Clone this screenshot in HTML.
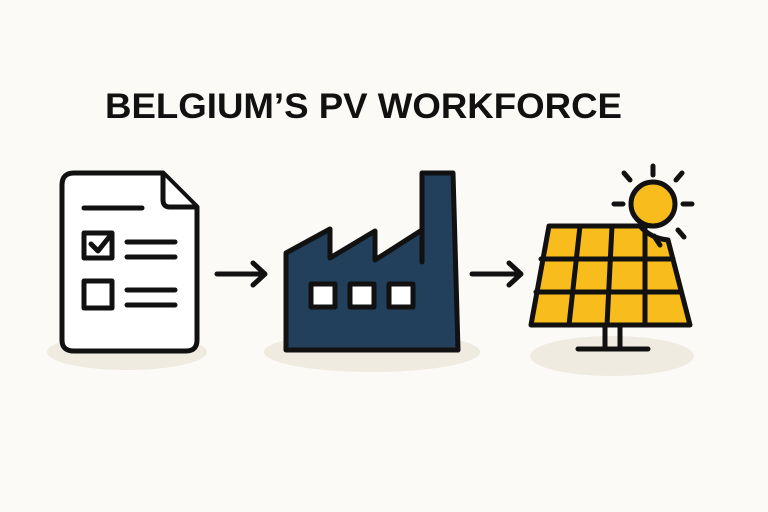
<!DOCTYPE html>
<html><head><meta charset="utf-8"><style>
html,body{margin:0;padding:0;background:#fbfaf7;}
svg{display:block}
</style></head><body>
<svg width="768" height="512" viewBox="0 0 768 512" xmlns="http://www.w3.org/2000/svg">
<rect width="768" height="512" fill="#fbfaf7"/>
<text x="105" y="118" font-family="Liberation Sans, sans-serif" font-weight="bold" font-size="35" textLength="517" lengthAdjust="spacingAndGlyphs" fill="#111">BELGIUM’S PV WORKFORCE</text>
<g fill="#efebe0">
<ellipse cx="127" cy="352" rx="80" ry="18"/>
<ellipse cx="372" cy="352" rx="108" ry="20"/>
<ellipse cx="612" cy="356" rx="82" ry="20"/>
</g>
<g stroke="#111" stroke-width="5" stroke-linecap="round" stroke-linejoin="round" fill="none">
<path d="M74 173 H163 L197 207 V340 Q197 351 186 351 H74 Q62 351 62 340 V185 Q62 173 74 173 Z" fill="#fff"/>
<path d="M163 175 V200 Q163 207 170 207 H195" fill="#fff"/>
<line x1="84" y1="208" x2="142" y2="208"/>
<rect x="84" y="233" width="28" height="25"/>
<path d="M91 244 L98 251 L110 236"/>
<line x1="127" y1="242" x2="175" y2="242"/>
<line x1="127" y1="257" x2="175" y2="257"/>
<rect x="84" y="281" width="28" height="27"/>
<line x1="127" y1="290" x2="175" y2="290"/>
<line x1="127" y1="305" x2="175" y2="305"/>
<path d="M217 274 H264 M253 263 L265 274 L253 285"/>
<path d="M472 274 H520 M509 263 L521 274 L509 285"/>
<path d="M286 350 V253 L330 229 V258 L375 231 V260 L422 230 V173 H453 L458 350 Z" fill="#22405c"/>
<path d="M422 230 V262" />
<rect x="311" y="284" width="24" height="23" fill="#fff"/>
<rect x="350" y="284" width="24" height="23" fill="#fff"/>
<rect x="389" y="284" width="24" height="23" fill="#fff"/>
<path d="M549 226 L640 226 Q650 238 668 240 L690 325 L531 325 Z" fill="#f8bd1c"/>
<path d="M541 259 H673 M536 292 H681 M580 226 L569 325 M612 226 L607 325 M645 226 L645 325"/>
<path d="M605 325 V348 M620 325 V348 M578 349 H648"/>
<circle cx="653" cy="204" r="22" fill="#f8bd1c"/>
<path d="M653 166 V175 M624 173 L630 180 M682 173 L676 180 M614 204 H623 M683 204 H692 M678 230 L684 237"/>
<path d="M654 236 L660 245"/>
</g>
</svg>
</body></html>
